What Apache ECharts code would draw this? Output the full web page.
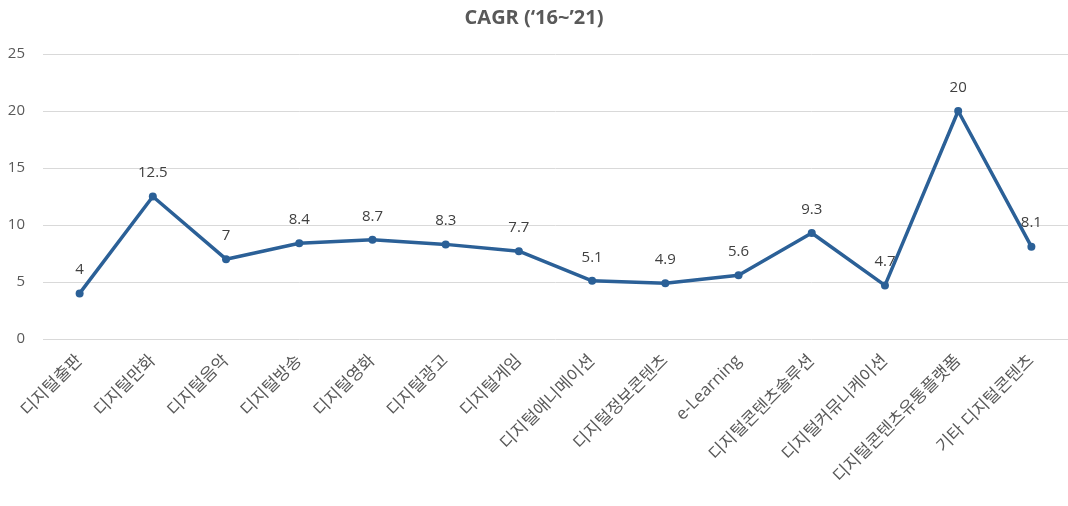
<!DOCTYPE html>
<html>
<head>
    <meta charset="utf-8">
    <title>CAGR</title>
    <script src="https://cdn.jsdelivr.net/npm/echarts@6/dist/echarts.min.js"></script>
    <style>
        html, body { margin: 0; padding: 0; background: #fff; }
        #main { width: 1068px; height: 506px; }
    </style>
</head>
<body>
<div id="main"></div>
<script>
    // 카테고리와 값
    var categories = ['디지털출판', '디지털만화', '디지털음악', '디지털방송', '디지털영화', '디지털광고', '디지털게임',
        '디지털애니메이션', '디지털정보콘텐츠', 'e-Learning', '디지털콘텐츠솔루션', '디지털커뮤니케이션',
        '디지털콘텐츠유통플랫폼', '기타 디지털콘텐츠'];
    var cagr = [4, 12.5, 7, 8.4, 8.7, 8.3, 7.7, 5.1, 4.9, 5.6, 9.3, 4.7, 20, 8.1];
    var yTicks = [0, 5, 10, 15, 20, 25];

    var font = '"Open Sans", "Noto Sans CJK KR", sans-serif';
    var chart = echarts.init(document.getElementById('main'));
    chart.setOption({
        animation: false,
        title: {
            text: 'CAGR (‘16~’21)',
            left: 'center',
            top: 3,
            textStyle: { color: '#595959', fontSize: 20, fontWeight: 'bold', fontFamily: font }
        },
        grid: { left: 43, right: 0, top: 54, bottom: 167 },
        xAxis: {
            type: 'category',
            data: categories,
            boundaryGap: true,
            axisLine: { show: false },
            axisTick: { show: false },
            axisLabel: {
                rotate: 45, interval: 0, margin: 19,
                color: '#595959', fontSize: 17, fontFamily: font
            }
        },
        yAxis: {
            type: 'value',
            min: yTicks[0],
            max: yTicks[yTicks.length - 1],
            interval: 5,
            axisLabel: { color: '#595959', fontSize: 15, fontFamily: font, margin: 18 },
            splitLine: { lineStyle: { color: '#d9d9d9', width: 1 } }
        },
        series: [{
            type: 'line',
            data: cagr,
            symbol: 'circle',
            symbolSize: 8,
            lineStyle: { color: '#2b6097', width: 3.5 },
            itemStyle: { color: '#2b6097' },
            label: {
                show: true, position: 'top', distance: 12,
                color: '#404040', fontSize: 15, fontFamily: font
            }
        }]
    });
</script>
</body>
</html>
